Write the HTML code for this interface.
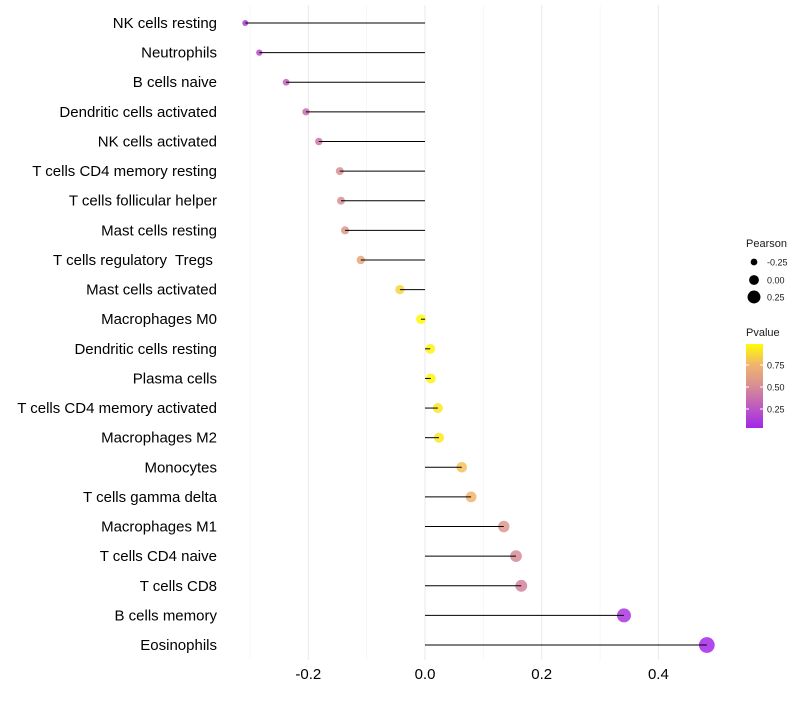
<!DOCTYPE html>
<html><head><meta charset="utf-8"><style>
body{margin:0;background:#fff;}
svg{font-family:"Liberation Sans",sans-serif;}
text{white-space:pre;}
</style></head><body>
<svg id="c" width="800" height="700"></svg>
<script>
const categories=["NK cells resting","Neutrophils","B cells naive","Dendritic cells activated","NK cells activated","T cells CD4 memory resting","T cells follicular helper","Mast cells resting","T cells regulatory  Tregs ","Mast cells activated","Macrophages M0","Dendritic cells resting","Plasma cells","T cells CD4 memory activated","Macrophages M2","Monocytes","T cells gamma delta","Macrophages M1","T cells CD4 naive","T cells CD8","B cells memory","Eosinophils"];
const pearson=[-0.308,-0.284,-0.238,-0.204,-0.182,-0.146,-0.144,-0.137,-0.110,-0.043,-0.007,0.009,0.010,0.022,0.024,0.063,0.079,0.135,0.156,0.165,0.341,0.483];
const pvalues=[0.12,0.2,0.3,0.35,0.4,0.52,0.52,0.56,0.66,0.86,0.98,0.96,0.96,0.92,0.92,0.8,0.75,0.56,0.5,0.46,0.1,0.04];
const xTicks=[-0.2,0,0.2,0.4];
const xTickLabels=["-0.2","0.0","0.2","0.4"];
const xMinor=[-0.3,-0.1,0.1,0.3];
const NS="http://www.w3.org/2000/svg";
const svg=document.getElementById('c');
const x=v=>425+v*583.5;
const y=i=>23+i*29.62;
const r=v=>Math.max(2,4.9+v*6.2);
const stops=[[0,[160,32,240]],[0.5,[214,140,150]],[0.75,[240,180,110]],[1,[255,255,0]]];
function col(p){const t=Math.max(0,Math.min(1,p));
 for(let k=1;k<stops.length;k++){if(t<=stops[k][0]){const a=stops[k-1],b=stops[k];const f=(t-a[0])/(b[0]-a[0]);
 return `rgb(${a[1].map((c,j)=>Math.round(c+(b[1][j]-c)*f)).join(',')})`;}}
 return 'rgb(255,255,0)';}
function el(tag,attrs,parent){const e=document.createElementNS(NS,tag);for(const k in attrs)e.setAttribute(k,attrs[k]);(parent||svg).appendChild(e);return e;}
const grid=el('g',{});


xMinor.forEach(v=>el('line',{x1:x(v),x2:x(v),y1:5,y2:660,stroke:'#f2f2f2','stroke-width':0.6},grid));
xTicks.forEach(v=>el('line',{x1:x(v),x2:x(v),y1:5,y2:660,stroke:'#ebebeb','stroke-width':1.1},grid));
const xa=el('g',{});


xTicks.forEach((v,i)=>{const t=el('text',{x:x(v),y:679,'text-anchor':'middle','font-size':15,fill:'#000'},xa);t.textContent=xTickLabels[i];});
const ya=el('g',{});


categories.forEach((c,i)=>{const t=el('text',{x:217,y:y(i)+5,'text-anchor':'end','font-size':15,fill:'#000'},ya);t.textContent=c;});
categories.forEach((c,i)=>{
 const g=el('g',{});
 
 
 el('circle',{cx:x(pearson[i]),cy:y(i),r:r(pearson[i]),fill:col(pvalues[i]),'fill-opacity':0.85},g);
 el('line',{x1:x(0),x2:x(pearson[i]),y1:y(i),y2:y(i),stroke:'#000','stroke-width':1},g);
});
const lg=el('g',{});


el('text',{x:746,y:247,'font-size':11,fill:'#1a1a1a'},lg).textContent='Pearson';
[[-0.25,262,'-0.25'],[0,280,'0.00'],[0.25,297,'0.25']].forEach(d=>{el('circle',{cx:754,cy:d[1],r:r(d[0]),fill:'#000'},lg);el('text',{x:767,y:d[1]+3.5,'font-size':9,fill:'#1a1a1a'},lg).textContent=d[2];});
const pl=el('g',{});


el('text',{x:746,y:336,'font-size':11,fill:'#1a1a1a'},pl).textContent='Pvalue';
const defs=el('defs',{});const lgr=el('linearGradient',{id:'pg',x1:0,y1:1,x2:0,y2:0},defs);
[0,0.25,0.5,0.75,1].forEach(o=>el('stop',{offset:o,'stop-color':col(0.03+o*0.96)},lgr));
el('rect',{x:746,y:344,width:17,height:84,fill:'url(#pg)'},pl);
[[0.75,365],[0.5,387],[0.25,409]].forEach(d=>{el('line',{x1:746,x2:749,y1:d[1],y2:d[1],stroke:'#fff'},pl);el('line',{x1:760,x2:763,y1:d[1],y2:d[1],stroke:'#fff'},pl);el('text',{x:767,y:d[1]+3.5,'font-size':9,fill:'#1a1a1a'},pl).textContent=d[0].toFixed(2);});
</script>
</body></html>
